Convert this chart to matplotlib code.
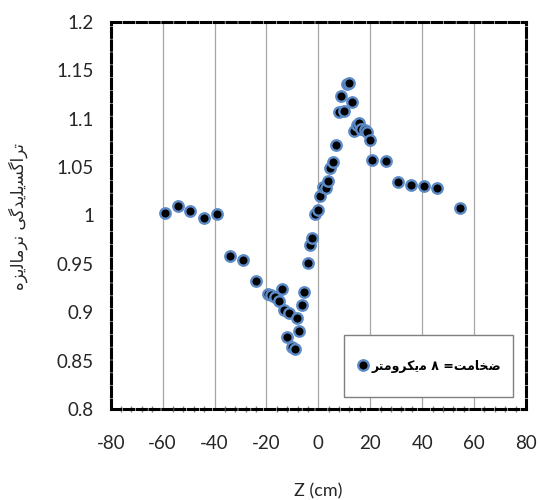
import numpy as np
import matplotlib
matplotlib.use("Agg")
import matplotlib.pyplot as plt
from matplotlib.ticker import MultipleLocator, FuncFormatter
from matplotlib.lines import Line2D
from matplotlib.patches import Rectangle

z_cm = [-59.1, -54.1, -49.4, -44.2, -39.1, -34.2, -29.2, -23.9, -19.4, -18.1,
        -16.8, -15.3, -14.0, -13.2, -12.1, -11.4, -10.2, -9.1, -8.1, -7.5,
        -6.2, -5.5, -4.1, -3.4, -2.3, -1.4, -0.2, 0.8, 1.8, 3.1,
        3.7, 4.6, 5.6, 6.8, 7.8, 8.8, 9.8, 11.0, 12.0, 12.9,
        13.6, 15.0, 15.8, 16.5, 17.8, 18.8, 20.0, 20.8, 25.9, 30.6,
        35.8, 40.8, 45.8, 54.6]
norm_val = [1.003, 1.010, 1.005, 0.997, 1.002, 0.958, 0.954, 0.932, 0.919, 0.918,
            0.916, 0.912, 0.924, 0.902, 0.874, 0.899, 0.864, 0.862, 0.894, 0.881,
            0.907, 0.921, 0.951, 0.970, 0.977, 1.002, 1.006, 1.020, 1.029, 1.028,
            1.036, 1.049, 1.055, 1.073, 1.107, 1.123, 1.108, 1.136, 1.137, 1.117,
            1.087, 1.094, 1.096, 1.089, 1.088, 1.086, 1.078, 1.057, 1.056, 1.035,
            1.032, 1.031, 1.028, 1.008]

xticks = [-80, -60, -40, -20, 0, 20, 40, 60, 80]
yticks = [0.8, 0.85, 0.9, 0.95, 1.0, 1.05, 1.1, 1.15, 1.2]


def vis(codes):
    # presentation-form glyphs in logical order -> visual (left to right)
    return "".join(chr(c) for c in reversed(codes))


# تراگسیلیدگی نرمالیزه
ylab = vis([0xFE97, 0xFEAE, 0xFE8D, 0xFB94, 0xFEB4, 0xFBFE, 0xFEE0, 0xFBFE, 0xFEAA,
            0xFB94, 0xFBFD, 0x20,
            0xFEE7, 0xFEAE, 0xFEE3, 0xFE8E, 0xFEDF, 0xFBFE, 0xFEB0, 0xFEE9])
# ضخامت= ۸ میکرومتر
leg_lab = vis([0xFEBF, 0xFEA8, 0xFE8E, 0xFEE3, 0xFE96, ord('='), 0x20, 0x06F8, 0x20,
               0xFEE3, 0xFBFE, 0xFB91, 0xFEAE, 0xFEED, 0xFEE3, 0xFE98, 0xFEAE])

plt.rcParams['font.family'] = ['Lato', 'DejaVu Sans']
plt.rcParams['axes.unicode_minus'] = False

fig = plt.figure(figsize=(5.4, 5.0), dpi=100)
ax = fig.add_axes([0.205, 0.182, 0.769, 0.774])

ax.plot(z_cm, norm_val, linestyle='none', marker='o', markersize=7.5,
        markerfacecolor='black', markeredgecolor='#5b8ac6', markeredgewidth=1.7)

ax.set_xlim(-80, 80)
ax.set_ylim(0.8, 1.2)
ax.set_xticks(xticks)
ax.set_yticks(yticks)
ax.xaxis.set_minor_locator(MultipleLocator(4))
ax.yaxis.set_major_formatter(FuncFormatter(lambda v, p: '%g' % round(v, 2)))
ax.grid(axis='x', color='#a6a6a6', linewidth=0.9)
ax.set_axisbelow(True)

ax.tick_params(axis='both', which='major', length=0, labelsize=13.5, colors='#262626')
ax.tick_params(axis='y', pad=12)
ax.tick_params(axis='x', pad=19)
ax.tick_params(axis='x', which='minor', direction='inout', length=5, color='#7f7f7f', width=1)

for s in ax.spines.values():
    s.set_color('black')
    s.set_linewidth(2.2)
    s.set_linestyle((0, (3, 1.2)))

# legend box drawn separately so it can be taller than its single entry
ax.add_patch(Rectangle((0.562, 0.031), 0.407, 0.16, transform=ax.transAxes,
                       facecolor='white', edgecolor='#7f7f7f', linewidth=1.0, zorder=4.5))
h = Line2D([], [], linestyle='none', marker='o', markersize=7.5,
           markerfacecolor='black', markeredgecolor='#5b8ac6', markeredgewidth=1.7)
leg = ax.legend([h], [leg_lab], loc='center', bbox_to_anchor=(0.7655, 0.111),
                frameon=False, handletextpad=0.2, handlelength=1.0, borderaxespad=0,
                prop={'family': 'DejaVu Sans', 'size': 9, 'weight': 'bold'})
leg.set_zorder(5)

fig.text(0.589, 0.018, 'Z (cm)', ha='center', va='center', fontsize=13, color='#262626')
fig.text(0.034, 0.568, ylab, ha='center', va='center', rotation=90,
         fontsize=12, family='DejaVu Sans', color='#262626')

fig.savefig('out.png', dpi=100)
